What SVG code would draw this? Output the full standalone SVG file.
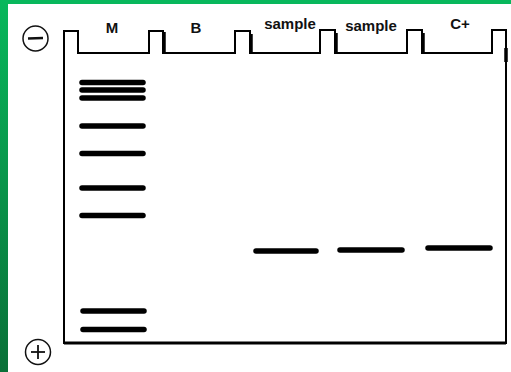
<svg xmlns="http://www.w3.org/2000/svg" width="511" height="372" viewBox="0 0 511 372">
<defs>
<linearGradient id="gl" x1="0" y1="0" x2="0" y2="1">
<stop offset="0" stop-color="#08b85c"/>
<stop offset="1" stop-color="#0a7038"/>
</linearGradient>
<style>
.lbl{font-family:"Liberation Sans",Arial,sans-serif;font-weight:bold;font-size:15px;fill:#111;text-anchor:middle}
.band{stroke:#000;stroke-width:5.5;stroke-linecap:round}
.sym{fill:none;stroke:#111;stroke-width:1.5}
.sh{stroke:#000;stroke-width:3.5}
</style>
</defs>
<rect width="511" height="372" fill="#fff"/>
<rect x="0" y="0" width="511" height="4" fill="#08b85c"/>
<rect x="0" y="0" width="8" height="372" fill="url(#gl)"/>

<g id="gel">
<path d="M64,343 L64,31 L78,31 L78,53 L149,53 L149,31 L163,31 L163,53 L235,53 L235,31 L250,31 L250,53 L320,53 L320,30 L335,30 L335,53 L407,53 L407,30 L422,30 L422,53 L492,53 L492,30 L506,30 L506,343 Z" fill="none" stroke="#000" stroke-width="2"/>
<line x1="64" y1="343" x2="506" y2="343" stroke="#000" stroke-width="3"/>
<line class="sh" x1="164" y1="32" x2="164" y2="53"/>
<line class="sh" x1="251" y1="34" x2="251" y2="53"/>
<line class="sh" x1="336" y1="33" x2="336" y2="53"/>
<line class="sh" x1="423" y1="33" x2="423" y2="53"/>
<line class="sh" x1="506" y1="48" x2="506" y2="62"/>
</g>

<g id="minus">
<circle class="sym" cx="35.5" cy="38.5" r="12.5"/>
<line x1="28" y1="38.5" x2="43" y2="38" stroke="#111" stroke-width="2.5"/>
</g>
<g id="plus">
<circle class="sym" cx="38" cy="352" r="12.5"/>
<line x1="31" y1="352" x2="45" y2="352" stroke="#111" stroke-width="1.8"/>
<line x1="38" y1="345" x2="38" y2="359" stroke="#111" stroke-width="1.8"/>
</g>

<g id="labels">
<text class="lbl" x="112" y="33">M</text>
<text class="lbl" x="196" y="33">B</text>
<text class="lbl" x="290" y="29">sample</text>
<text class="lbl" x="371" y="31">sample</text>
<text class="lbl" x="460" y="29">C+</text>
</g>

<g id="laneM">
<line class="band" x1="82" y1="82.5" x2="143" y2="82.5"/>
<line class="band" x1="82" y1="90" x2="143" y2="90"/>
<line class="band" x1="82" y1="98" x2="143" y2="98"/>
<line class="band" x1="82" y1="126" x2="143" y2="126"/>
<line class="band" x1="82" y1="153.5" x2="143" y2="153.5"/>
<line class="band" x1="82" y1="188" x2="143" y2="188"/>
<line class="band" x1="82" y1="215.5" x2="143" y2="215.5"/>
<line class="band" x1="83" y1="311" x2="144" y2="311"/>
<line class="band" x1="83" y1="329.5" x2="144" y2="329.5"/>
</g>
<g id="laneS1"><line class="band" x1="256" y1="251" x2="316" y2="251"/></g>
<g id="laneS2"><line class="band" x1="340" y1="250" x2="402" y2="250"/></g>
<g id="laneC"><line class="band" x1="428" y1="248" x2="490" y2="248"/></g>
</svg>
